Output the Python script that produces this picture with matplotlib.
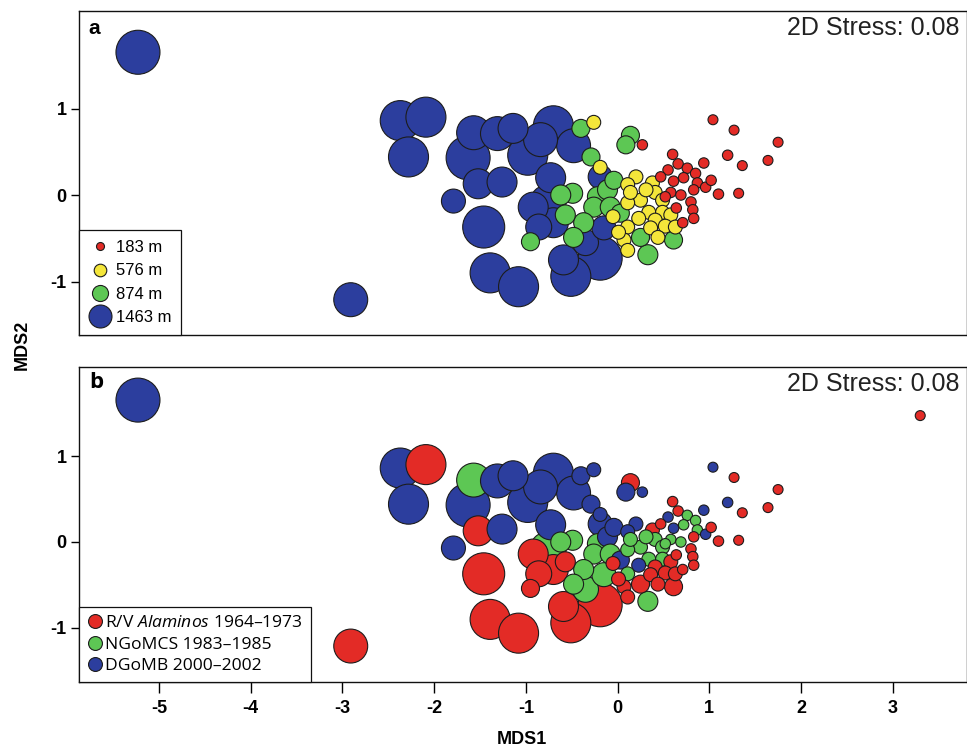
import matplotlib
matplotlib.use("Agg")
import matplotlib.pyplot as plt
from matplotlib.lines import Line2D
import numpy as np

# ---------------- data ----------------
# MDS coordinates, station depth (m) and sampling programme (A = R/V Alaminos, N = NGoMCS, D = DGoMB)
mds1 = [
    # deep stations
    -5.23, -2.91, -2.37, -2.09, -2.28, -1.79, -1.46, -1.63, -1.57, -1.31,
    -1.14, -1.39, -1.08, -1.52, -1.26, -0.98, -0.70, -0.48, -0.73, -0.76,
    -0.86, -0.70, -0.59, -0.19, -0.51, -0.35, -0.15, -0.19, -0.92, -0.84,
    # 874 m class
    -0.40, 0.14, 0.09, -0.29, -0.49, -0.22, -0.11, -0.04, -0.26, -0.08,
    -0.37, 0.03, -0.95, -0.48, 0.25, 0.33, 0.61, -0.62, -0.57,
    # 576 m class
    -0.26, -0.19, 0.20, 0.11, 0.38, 0.41, 0.25, 0.11, 0.49, 0.34,
    0.49, 0.23, 0.41, 0.58, 0.11, 0.07, 0.36, 0.52, 0.63, 0.44,
    0.11, 0.14, 0.31, -0.05, 0.01,
    # 183 m class
    0.27, 0.60, 1.20, 0.66, 0.55, 0.76, 0.94, 0.85, 0.47, 0.61,
    0.72, 0.87, 0.96, 1.02, 0.58, 0.69, 0.83, 1.10, 0.80, 0.64,
    0.82, 0.83, 0.71, 0.52, 1.04, 1.27, 1.75, 1.36, 1.64, 1.32,
]
mds2 = [
    1.65, -1.21, 0.86, 0.90, 0.44, -0.07, -0.37, 0.43, 0.72, 0.71,
    0.77, -0.90, -1.06, 0.13, 0.15, 0.46, 0.80, 0.57, 0.20, -0.09,
    -0.37, -0.32, -0.75, -0.73, -0.94, -0.55, -0.38, 0.21, -0.14, 0.64,
    0.77, 0.69, 0.58, 0.44, 0.02, -0.02, 0.06, 0.17, -0.14, -0.14,
    -0.32, -0.21, -0.54, -0.49, -0.49, -0.69, -0.52, 0.00, -0.23,
    0.84, 0.32, 0.21, 0.12, 0.14, 0.03, -0.06, -0.09, -0.06, -0.20,
    -0.20, -0.27, -0.29, -0.23, -0.37, -0.52, -0.38, -0.36, -0.37, -0.49,
    -0.64, 0.03, 0.06, -0.25, -0.43,
    0.58, 0.47, 0.46, 0.36, 0.29, 0.31, 0.37, 0.25, 0.21, 0.16,
    0.20, 0.14, 0.09, 0.17, 0.03, 0.00, 0.06, 0.01, -0.08, -0.15,
    -0.17, -0.27, -0.32, -0.02, 0.87, 0.75, 0.61, 0.34, 0.40, 0.02,
]
depth_m = [
    3260, 2400, 2920, 2920, 2920, 1550, 3090, 3260, 2400, 2400,
    2060, 2920, 2920, 2060, 2060, 2920, 2920, 2400, 2060, 2580,
    1720, 2060, 2060, 3260, 2920, 1720, 1550, 1550, 2060, 2400,
    1040, 1040, 1040, 1040, 1210, 1210, 1210, 1040, 1210, 1210,
    1210, 1040, 1040, 1210, 1040, 1210, 1040, 1210, 1210,
    690, 690, 690, 690, 690, 690, 690, 690, 690, 690,
    690, 690, 690, 690, 690, 690, 690, 690, 690, 690,
    690, 690, 690, 690, 690,
    390, 390, 390, 390, 390, 390, 390, 390, 390, 390,
    390, 390, 390, 390, 390, 390, 390, 390, 390, 390,
    390, 390, 390, 390, 350, 350, 350, 350, 350, 350,
]
period = [
    "D", "A", "D", "A", "D", "D", "A", "D", "N", "D",
    "D", "A", "A", "A", "D", "D", "D", "D", "D", "N",
    "A", "A", "A", "A", "A", "N", "N", "D", "A", "D",
    "D", "A", "D", "D", "N", "N", "D", "D", "N", "N",
    "N", "D", "A", "N", "A", "N", "A", "N", "A",
    "D", "D", "D", "D", "A", "N", "N", "N", "N", "N",
    "N", "D", "A", "A", "N", "A", "A", "A", "A", "A",
    "A", "N", "N", "A", "A",
    "D", "A", "D", "A", "D", "N", "D", "N", "A", "D",
    "N", "N", "D", "A", "N", "N", "A", "A", "A", "A",
    "A", "A", "A", "N", "D", "A", "A", "A", "A", "A",
]
# extra station present only in panel b
extra_b_mds1 = [3.30]
extra_b_mds2 = [1.47]
extra_b_depth = [350]
extra_b_period = ["A"]

legend_depths = [183, 576, 874, 1463]
legend_depth_labels = ["183 m", "576 m", "874 m", "1463 m"]
period_codes = ["A", "N", "D"]
period_labels = [r"R/V $\mathit{Alaminos}$ 1964–1973", "NGoMCS 1983–1985", "DGoMB 2000–2002"]
xticks = [-5, -4, -3, -2, -1, 0, 1, 2, 3]
yticks = [-1, 0, 1]
stress_text = "2D Stress: 0.08"

# ---------------- style ----------------
RED, YEL, GRN, BLU = "#E32B26", "#F4E63A", "#5DC754", "#2C3E9E"
EDGE = "#1c1c1c"
period_colors = {"A": RED, "N": GRN, "D": BLU}


def depth_color(d):
    if d < 400:
        return RED
    if d < 750:
        return YEL
    if d < 1300:
        return GRN
    return BLU


def diam_px(d):
    return 5.85 + 0.0117 * d


def area_pt2(d):
    return (diam_px(d) * 0.72) ** 2


plt.rcParams["mathtext.fontset"] = "custom"
plt.rcParams["mathtext.it"] = "Open Sans:italic"
plt.rcParams["mathtext.rm"] = "Open Sans"

TICKFONT = dict(family=["Liberation Sans Narrow", "Liberation Sans"], weight="bold", size=13)

fig = plt.figure(figsize=(9.67, 7.52), dpi=100)
ax_a = fig.add_axes([79 / 967, 1 - 335 / 752, 888 / 967, 324 / 752])
ax_b = fig.add_axes([79 / 967, 1 - 682 / 752, 888 / 967, 315 / 752])

x = np.array(mds1)
y = np.array(mds2)
dep = np.array(depth_m)
order = np.argsort(-dep, kind="stable")

# panel a: coloured by depth
ax_a.scatter(x[order], y[order], s=[area_pt2(d) for d in dep[order]],
             c=[depth_color(d) for d in dep[order]], edgecolors=EDGE, linewidths=0.8, zorder=3)

# panel b: coloured by programme
xb = np.concatenate([x, extra_b_mds1])
yb = np.concatenate([y, extra_b_mds2])
db = np.concatenate([dep, extra_b_depth])
pb = list(period) + list(extra_b_period)
ob = np.argsort(-db, kind="stable")
ax_b.scatter(xb[ob], yb[ob], s=[area_pt2(d) for d in db[ob]],
             c=[period_colors[pb[i]] for i in ob], edgecolors=EDGE, linewidths=0.8, zorder=3)

for ax, ylim in ((ax_a, (-1.618, 2.127)), (ax_b, (-1.628, 2.035))):
    ax.set_xlim(-5.873, 3.81)
    ax.set_ylim(*ylim)
    ax.set_yticks(yticks)
    ax.set_yticklabels([str(t) for t in yticks], fontdict=TICKFONT)
    ax.tick_params(axis="y", direction="out", length=6, width=1, pad=3)
    for sp in ax.spines.values():
        sp.set_linewidth(1.0)
        sp.set_color("#111111")
    ax.text(0.991, 0.985, stress_text, transform=ax.transAxes, ha="right", va="top",
            fontsize=18, family="Liberation Sans", color="#222222")

ax_a.set_xticks(xticks)
ax_a.tick_params(axis="x", bottom=False, labelbottom=False)
ax_b.set_xticks(xticks)
ax_b.set_xticklabels([str(t) for t in xticks], fontdict=TICKFONT)
ax_b.tick_params(axis="x", direction="out", length=8, width=1, pad=5)

ax_a.text(0.011, 0.975, "a", transform=ax_a.transAxes, ha="left", va="top",
          fontsize=15, weight="bold", family="Liberation Sans")
ax_b.text(0.011, 0.985, "b", transform=ax_b.transAxes, ha="left", va="top",
          fontsize=16, weight="bold", family="Open Sans")

fig.text(22 / 967, 1 - 345 / 752, "MDS2", rotation=90, ha="center", va="center",
         **TICKFONT)
fig.text(522 / 967, 1 - 740 / 752, "MDS1", ha="center", va="center", **TICKFONT)

# legends
h_a = [Line2D([], [], ls="", marker="o", markersize=diam_px(d) * 0.72,
              markerfacecolor=depth_color(d), markeredgecolor=EDGE, markeredgewidth=0.8)
       for d in legend_depths]
leg_a = ax_a.legend(h_a, legend_depth_labels, loc="lower left", borderaxespad=0,
                    frameon=True, fancybox=False, edgecolor="#111111", framealpha=1,
                    prop=dict(family="Liberation Sans", size=12), handlelength=1.35,
                    handletextpad=0.25, labelspacing=0.5, borderpad=0.6)
leg_a.get_frame().set_linewidth(0.9)

h_b = [Line2D([], [], ls="", marker="o", markersize=10,
              markerfacecolor=period_colors[p], markeredgecolor=EDGE, markeredgewidth=0.8)
       for p in period_codes]
leg_b = ax_b.legend(h_b, period_labels, loc="lower left", borderaxespad=0,
                    frameon=True, fancybox=False, edgecolor="#111111", framealpha=1,
                    prop=dict(family="Open Sans", size=12.6), handlelength=0.9,
                    handletextpad=0.15, labelspacing=0.3, borderpad=0.45)
leg_b.get_frame().set_linewidth(0.9)

fig.savefig("out.png", dpi=100)
